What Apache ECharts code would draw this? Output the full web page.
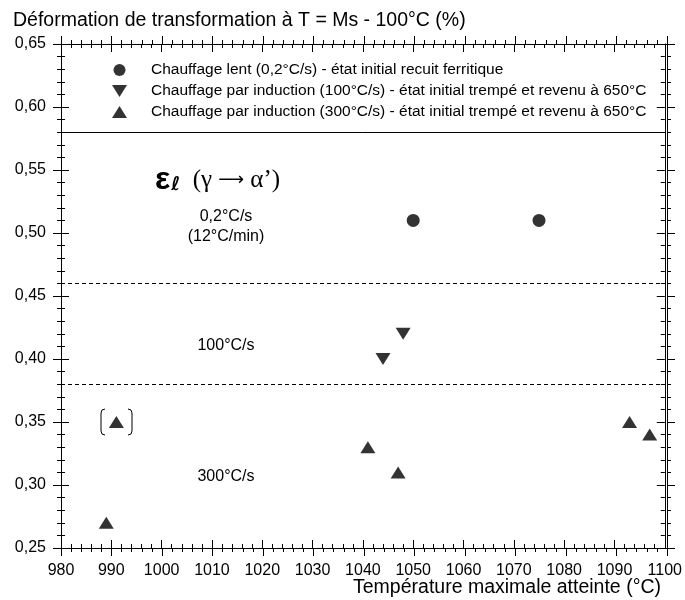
<!DOCTYPE html>
<html>
<head>
<meta charset="utf-8">
<script src="https://cdn.jsdelivr.net/npm/echarts@6/dist/echarts.min.js"></script>
<style>html,body{margin:0;padding:0;background:#fff}#c{width:685px;height:600px}</style>
</head>
<body>
<div id="c"></div>
<script>
// ---- data ----
const xRange = [980, 1100];
const yRange = [0.25, 0.65];
const lentX = [1050, 1075];
const lentY = [0.51, 0.51];
const ind100X = [1044, 1048];
const ind100Y = [0.40, 0.42];
const ind300X = [989, 991, 1041, 1047, 1093, 1097];
const ind300Y = [0.27, 0.35, 0.33, 0.31, 0.35, 0.34];
const seriesNames = [
  'Chauffage lent (0,2°C/s) - état initial recuit ferritique',
  'Chauffage par induction (100°C/s) - état initial trempé et revenu à 650°C',
  'Chauffage par induction (300°C/s) - état initial trempé et revenu à 650°C'
];
const solidLines = [0.58];
const dashedLines = [0.46, 0.376];
const titleText = 'Déformation de transformation à T = Ms - 100°C (%)';
const xName = 'Température maximale atteinte (°C)';
const zoneLabels = ['0,2°C/s', '(12°C/min)', '100°C/s', '300°C/s'];

const FONT = 'Liberation Sans, Arial, sans-serif';
const DOWN_TRI = 'path://M0,0L10,0L5,8Z';
const UP_TRI = 'path://M5,0L10,8L0,8Z';

function zip(xs, ys) { return xs.map((x, i) => [x, ys[i]]); }

const gridBox = { left: 61, right: 18, top: 44, bottom: 52 };

function xAxisCfg(grid, pos, inside, labels) {
  return {
    type: 'value', gridIndex: grid, position: pos,
    min: xRange[0], max: xRange[1], interval: 10,
    axisLine: { show: true, onZero: false, lineStyle: { color: '#000', width: 1 } },
    axisTick: { show: true, inside: inside, length: 8, lineStyle: { color: '#000', width: 1 } },
    minorTick: { show: true, splitNumber: 5, length: 4, lineStyle: { color: '#000', width: 1 } },
    splitLine: { show: false },
    axisLabel: { show: labels, color: '#000', fontSize: 16, fontFamily: FONT, margin: 15, formatter: v => String(v) }
  };
}
function yAxisCfg(grid, pos, inside, labels) {
  return {
    type: 'value', gridIndex: grid, position: pos,
    min: yRange[0], max: yRange[1], interval: 0.05,
    axisLine: { show: true, onZero: false, lineStyle: { color: '#000', width: 1 } },
    axisTick: { show: true, inside: inside, length: 8, lineStyle: { color: '#000', width: 1 } },
    minorTick: { show: true, splitNumber: 5, length: 4, lineStyle: { color: '#000', width: 1 } },
    splitLine: { show: false },
    axisLabel: {
      show: labels, color: '#000', fontSize: 16, fontFamily: FONT, margin: 15,
      formatter: v => v.toFixed(2).replace('.', ',')
    }
  };
}

const markLineData = solidLines.map(v => ({ yAxis: v, lineStyle: { type: 'solid', color: '#000', width: 1 } }))
  .concat(dashedLines.map(v => ({ yAxis: v, lineStyle: { type: [4, 3], color: '#000', width: 1 } })));

const chart = echarts.init(document.getElementById('c'), null, { renderer: 'canvas' });
chart.setOption({
  animation: false,
  backgroundColor: '#fff',
  title: {
    text: titleText, left: 13, top: 11, padding: 0,
    textStyle: { fontSize: 19.5, fontWeight: 'normal', color: '#000', fontFamily: FONT }
  },
  legend: {
    orient: 'vertical', left: 112, top: 62, padding: 0,
    itemWidth: 15, itemHeight: 12, itemGap: 5,
    textStyle: { fontSize: 15.5, color: '#000', fontFamily: FONT, padding: [0, 0, 0, 19], lineHeight: 16 },
    data: [
      { name: seriesNames[0], icon: 'circle' },
      { name: seriesNames[1], icon: DOWN_TRI },
      { name: seriesNames[2], icon: UP_TRI }
    ],
    selectedMode: false
  },
  grid: [
    Object.assign({ containLabel: false }, gridBox),
    Object.assign({ containLabel: false }, gridBox)
  ],
  xAxis: [
    xAxisCfg(0, 'bottom', true, true),
    xAxisCfg(0, 'top', true, false),
    xAxisCfg(1, 'bottom', false, false),
    xAxisCfg(1, 'top', false, false)
  ],
  yAxis: [
    yAxisCfg(0, 'left', true, true),
    yAxisCfg(0, 'right', true, false),
    yAxisCfg(1, 'left', false, false),
    yAxisCfg(1, 'right', false, false)
  ],
  series: [
    {
      name: seriesNames[0], type: 'scatter', xAxisIndex: 0, yAxisIndex: 0,
      symbol: 'circle', symbolSize: 13, itemStyle: { color: '#000' },
      data: zip(lentX, lentY),
      markLine: { silent: true, symbol: 'none', label: { show: false }, data: markLineData }
    },
    {
      name: seriesNames[1], type: 'scatter', xAxisIndex: 0, yAxisIndex: 0,
      symbol: DOWN_TRI, symbolSize: [15, 12], itemStyle: { color: '#000' },
      data: zip(ind100X, ind100Y)
    },
    {
      name: seriesNames[2], type: 'scatter', xAxisIndex: 0, yAxisIndex: 0,
      symbol: UP_TRI, symbolSize: [15, 12], itemStyle: { color: '#000' },
      data: zip(ind300X, ind300Y)
    }
  ],
  graphic: [
    {
      type: 'text', x: 661, y: 588,
      style: { text: xName, fontSize: 19.5, fontFamily: FONT, fill: '#000', align: 'right', verticalAlign: 'middle' }
    },
    {
      type: 'text', x: 155, y: 180,
      style: {
        text: '{e|ε}{l|ℓ}{g|  (γ }{a|⟶}{g| α’)}',
        verticalAlign: 'middle',
        rich: {
          e: { fontSize: 32, fontWeight: 'bold', fontFamily: FONT, fill: '#000' },
          l: { fontSize: 19, fontWeight: 'bold', fontFamily: 'DejaVu Sans, sans-serif', fill: '#000', padding: [10, 0, 0, 1] },
          g: { fontSize: 25, fontFamily: 'Liberation Serif, serif', fill: '#000' },
          a: { fontSize: 18, fontFamily: 'DejaVu Sans, sans-serif', fill: '#000' }
        }
      }
    },
    { type: 'text', x: 226, y: 217, style: { text: zoneLabels[0], fontSize: 16, fontFamily: FONT, fill: '#000', align: 'center', verticalAlign: 'middle' } },
    { type: 'text', x: 226, y: 237, style: { text: zoneLabels[1], fontSize: 16, fontFamily: FONT, fill: '#000', align: 'center', verticalAlign: 'middle' } },
    { type: 'text', x: 226, y: 346, style: { text: zoneLabels[2], fontSize: 16, fontFamily: FONT, fill: '#000', align: 'center', verticalAlign: 'middle' } },
    { type: 'text', x: 226, y: 477, style: { text: zoneLabels[3], fontSize: 16, fontFamily: FONT, fill: '#000', align: 'center', verticalAlign: 'middle' } },
    {
      type: 'polyline',
      shape: { points: [[105, 409], [102, 410], [101, 413], [101, 431], [102, 434], [105, 435]] },
      style: { stroke: '#000', lineWidth: 1, fill: null }
    },
    {
      type: 'polyline',
      shape: { points: [[128, 409], [131, 410], [132, 413], [132, 431], [131, 434], [128, 435]] },
      style: { stroke: '#000', lineWidth: 1, fill: null }
    }
  ]
});
</script>
</body>
</html>
